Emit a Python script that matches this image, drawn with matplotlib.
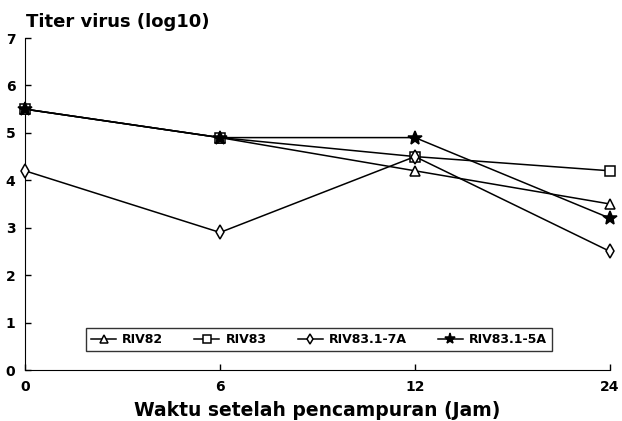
import matplotlib
matplotlib.use("Agg")
import matplotlib.pyplot as plt

hours = ["0", "6", "12", "24"]
riv82 = [5.5, 4.9, 4.2, 3.5]
riv83 = [5.5, 4.9, 4.5, 4.2]
riv83_7a = [4.2, 2.9, 4.5, 2.5]
riv83_5a = [5.5, 4.9, 4.9, 3.2]
series_names = ["RIV82", "RIV83", "RIV83.1-7A", "RIV83.1-5A"]
y_ticks = [0, 1, 2, 3, 4, 5, 6, 7]

plt.rcParams['font.family'] = ['DejaVu Sans']
plt.rcParams['font.weight'] = 'bold'

fig = plt.figure(figsize=(6.22, 4.21), dpi=100)
ax = fig.add_axes([25/622, 51/421, 585/622, 332/421])

xs = list(range(len(hours)))
styles = [
    dict(marker='^', mfc='white', ms=7),
    dict(marker='s', mfc='white', ms=6.5),
    dict(marker='d', mfc='white', ms=7),
    dict(marker='*', mfc='black', ms=10),
]
for vals, name, st in zip([riv82, riv83, riv83_7a, riv83_5a], series_names, styles):
    ax.plot(xs, vals, color='black', lw=1.1, mec='black', mew=1.1,
            label=name, clip_on=False, zorder=3, **st)

ax.set_xlim(0, 3)
ax.set_ylim(0, 7)
ax.set_xticks(xs)
ax.set_xticklabels(hours)
ax.set_yticks(y_ticks)
ax.spines['top'].set_visible(False)
ax.spines['right'].set_visible(False)
ax.tick_params(direction='in', length=4, width=1, labelsize=10)
ax.tick_params(axis='y', pad=7)
ax.tick_params(axis='x', pad=7)
for lbl in ax.get_xticklabels() + ax.get_yticklabels():
    lbl.set_fontweight('bold')

ax.set_xlabel("Waktu setelah pencampuran (Jam)", fontsize=13.5, fontweight='bold', labelpad=5)
fig.text(26/622, 1 - 22/421, "Titer virus (log10)", fontsize=13, fontweight='bold', va='center', ha='left')

leg = ax.legend(loc='lower left', bbox_to_anchor=(61/585, (370-351)/332, 466/585, 38/332),
                mode='expand', ncol=4, frameon=True, fancybox=False, edgecolor='black',
                prop={'weight': 'bold', 'size': 9}, handlelength=2.0, handletextpad=0.5,
                borderaxespad=0, columnspacing=1.2, markerscale=0.8)
leg.get_frame().set_linewidth(1.0)

fig.savefig("out.png", dpi=100)
